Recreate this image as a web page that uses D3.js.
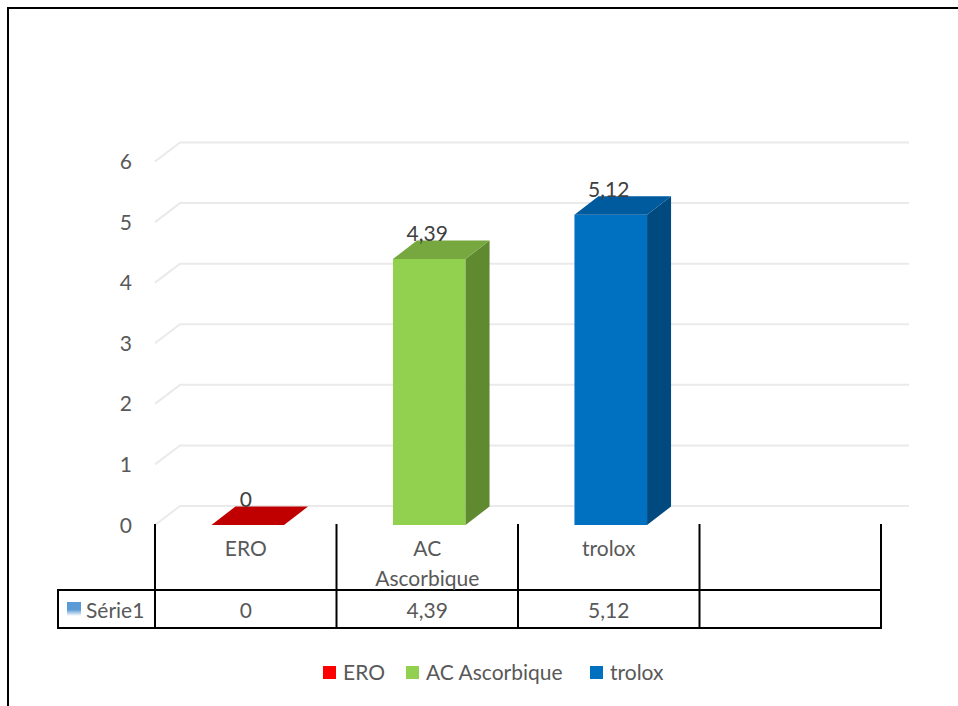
<!DOCTYPE html>
<html>
<head>
<meta charset="utf-8">
<script src="https://cdn.jsdelivr.net/npm/d3@7"></script>
<style>
  html, body { margin: 0; padding: 0; background: #fff; }
  svg { display: block; }
  text { font-family: "Lato", "Open Sans", sans-serif; }
</style>
</head>
<body>
<svg id="chart" width="958" height="706"></svg>
<script>
// Chart data
const categories = ["ERO", "AC Ascorbique", "trolox"];
const values = [0, 4.39, 5.12];
const valueLabels = ["0", "4,39", "5,12"];
const seriesName = "Série1";
const yTicks = [0, 1, 2, 3, 4, 5, 6];
const categoryLines = [["ERO"], ["AC", "Ascorbique"], ["trolox"]];

// Face colours per bar: front, top, side
const frontColors = ["#FF0000", "#92D050", "#0070C0"];
const topColors = ["#C00000", "#76A83F", "#005A9E"];
const sideColors = ["#A00000", "#5F8A30", "#004A80"];
const legendColors = ["#FF0000", "#92D050", "#0070C0"];

const fontSize = 21;
const svg = d3.select("#chart");

// Outer frame
svg.append("rect")
  .attr("x", 8).attr("y", 8).attr("width", 980).attr("height", 720)
  .attr("fill", "none").attr("stroke", "#000").attr("stroke-width", 2);

// Scales
const y = d3.scaleLinear().domain([0, 6]).range([525, 161.5]);
const slots = categories.concat([""]);
const x = d3.scaleBand().domain(slots).range([155, 881]).padding(0);

// Depth offsets for the 3D look
const depthX = 25, depthY = -19;
const barDX = 24, barDY = -18.5;
const gridRight = 909;

// Gridlines: short diagonal on the side wall plus back-wall line
const grid = svg.append("g");
yTicks.forEach(t => {
  const yf = y(t);
  grid.append("path")
    .attr("d", `M${155},${yf} L${155 + depthX},${yf + depthY} L${gridRight},${yf + depthY}`)
    .attr("fill", "none").attr("stroke", "#EAEAEA").attr("stroke-width", 2);
});

// Y tick labels
svg.append("g").selectAll("text").data(yTicks).join("text")
  .attr("x", 132).attr("y", d => y(d)).attr("dy", "0.36em")
  .attr("text-anchor", "end").attr("fill", "#595959")
  .attr("font-size", fontSize).text(d => d);

// Bars
const bw = x.bandwidth() * 0.4;
const bars = svg.append("g");
categories.forEach((c, i) => {
  const cx = x(c) + x.bandwidth() / 2 + 2;
  const x0 = cx - bw / 2, x1 = cx + bw / 2;
  const yb = y(0), yt = y(values[i]);
  const g = bars.append("g");
  if (values[i] > 0) {
    // front face
    g.append("path").attr("d", `M${x0},${yb} L${x0},${yt} L${x1},${yt} L${x1},${yb} Z`)
      .attr("fill", frontColors[i]);
    // side face
    g.append("path").attr("d",
      `M${x1},${yb} L${x1},${yt} L${x1 + barDX},${yt + barDY} L${x1 + barDX},${yb + barDY} Z`)
      .attr("fill", sideColors[i]);
  }
  // top face
  g.append("path").attr("d",
    `M${x0},${yt} L${x1},${yt} L${x1 + barDX},${yt + barDY} L${x0 + barDX},${yt + barDY} Z`)
    .attr("fill", topColors[i]);
  // value label
  svg.append("text")
    .attr("x", cx - 2).attr("y", yt + barDY - 7).attr("dy", "0.36em")
    .attr("text-anchor", "middle").attr("fill", "#404040").attr("font-size", fontSize)
    .text(valueLabels[i]);
});

// Data table under the plot
const table = svg.append("g");
const colEdges = slots.map(s => x(s)).concat([x.range()[1]]);
const rowTop = 590, rowBottom = 628;
colEdges.forEach(xe => {
  table.append("line").attr("x1", xe).attr("x2", xe)
    .attr("y1", 524).attr("y2", rowBottom + 1)
    .attr("stroke", "#000").attr("stroke-width", 2);
});
[rowTop, rowBottom].forEach(yy => {
  table.append("line").attr("x1", 58).attr("x2", x.range()[1] + 1)
    .attr("y1", yy).attr("y2", yy).attr("stroke", "#000").attr("stroke-width", 2);
});
table.append("line").attr("x1", 58).attr("x2", 58)
  .attr("y1", rowTop - 1).attr("y2", rowBottom + 1)
  .attr("stroke", "#000").attr("stroke-width", 2);

// Category labels inside the table header, values in the series row
categoryLines.forEach((lines, i) => {
  const cx = x(categories[i]) + x.bandwidth() / 2;
  lines.forEach((ln, j) => {
    table.append("text").attr("x", cx).attr("y", 548 + j * 30).attr("dy", "0.36em")
      .attr("text-anchor", "middle").attr("fill", "#595959").attr("font-size", fontSize)
      .text(ln);
  });
  table.append("text").attr("x", cx).attr("y", 610).attr("dy", "0.36em")
    .attr("text-anchor", "middle").attr("fill", "#595959").attr("font-size", fontSize)
    .text(valueLabels[i]);
});

// Series key in the table's first column
const defs = svg.append("defs");
const grad = defs.append("linearGradient").attr("id", "serieKey")
  .attr("x1", 0).attr("y1", 0).attr("x2", 0).attr("y2", 1);
grad.append("stop").attr("offset", "0%").attr("stop-color", "#5B9BD5");
grad.append("stop").attr("offset", "55%").attr("stop-color", "#5B9BD5");
grad.append("stop").attr("offset", "100%").attr("stop-color", "#FFFFFF");
table.append("rect").attr("x", 67).attr("y", 602).attr("width", 14).attr("height", 14)
  .attr("fill", "url(#serieKey)");
table.append("text").attr("x", 86).attr("y", 610).attr("dy", "0.36em")
  .attr("fill", "#595959").attr("font-size", fontSize).text(seriesName);

// Legend
const legendX = [323, 406, 590];
const legend = svg.append("g");
categories.forEach((c, i) => {
  legend.append("rect").attr("x", legendX[i]).attr("y", 666)
    .attr("width", 13).attr("height", 13).attr("fill", legendColors[i]);
  legend.append("text").attr("x", legendX[i] + 20).attr("y", 672.5).attr("dy", "0.36em")
    .attr("fill", "#595959").attr("font-size", fontSize).text(c);
});
</script>
</body>
</html>
